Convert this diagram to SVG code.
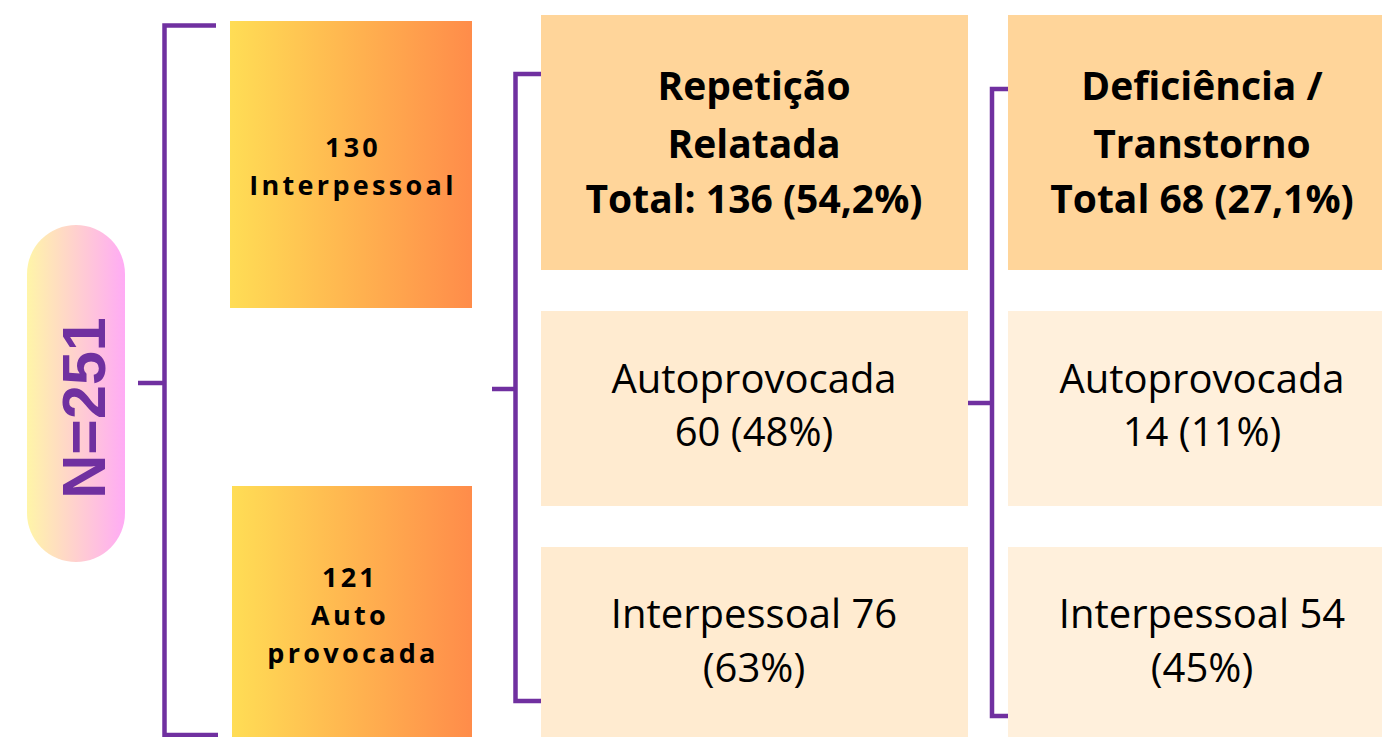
<svg xmlns="http://www.w3.org/2000/svg" width="1382" height="737" viewBox="0 0 1382 737">
<defs>
<linearGradient id="orange" x1="0" y1="0" x2="1" y2="0">
<stop offset="0" stop-color="#ffdd55"/>
<stop offset="1" stop-color="#ff8c4a"/>
</linearGradient>
<linearGradient id="pill" x1="0" y1="0" x2="1" y2="0">
<stop offset="0" stop-color="#fff5a8"/>
<stop offset="1" stop-color="#ffabf5"/>
</linearGradient>
<style>
.conn{fill:none;stroke:#7030a0;stroke-width:4.5;stroke-linecap:butt;stroke-linejoin:miter}
.head{fill:#ffd59a}
.sub{fill:#ffebd0}
.sub2{fill:#fff0dc}
.t{font-family:"Open Sans","Liberation Sans",sans-serif;fill:#000;text-anchor:middle}
.big{font-size:39px;font-weight:700}
.reg{font-size:40px;font-weight:400}
.sm{font-size:27px;font-weight:700;letter-spacing:3.3px}
</style>
</defs>
<rect width="1382" height="737" fill="#fff"/>
<g id="connectors">
<path class="conn" d="M216 25.5 H164.5 V735 H218"/>
<path class="conn" d="M138 383 H164.5"/>
<path class="conn" d="M560 74 H515.5 V701 H562"/>
<path class="conn" d="M492 389 H515.5"/>
<path class="conn" d="M1036 89 H992 V716 H1038"/>
<path class="conn" d="M968 403 H992"/>
</g>
<g id="n-total">
<rect x="27" y="225" width="98" height="337" rx="49" fill="url(#pill)"/>
<text transform="translate(105 408) rotate(-90)" font-family="Liberation Sans,Arial,sans-serif" font-size="61" font-weight="700" fill="#7030a0" text-anchor="middle">N=251</text>
</g>
<g id="interpessoal">
<rect x="230" y="21" width="242" height="287" fill="url(#orange)"/>
<text class="t sm" x="353" y="157">130</text>
<text class="t sm" x="353" y="195">Interpessoal</text>
</g>
<g id="autoprovocada">
<rect x="232" y="486" width="240" height="251" fill="url(#orange)"/>
<text class="t sm" x="350" y="587">121</text>
<text class="t sm" x="350" y="625">Auto</text>
<text class="t sm" x="353" y="663">provocada</text>
</g>
<g id="repeticao">
<rect class="head" x="541" y="15" width="427" height="255"/>
<text class="t big" x="754" y="100">Repetição</text>
<text class="t big" x="754" y="158">Relatada</text>
<text class="t big" x="754" y="213">Total: 136 (54,2%)</text>
</g>
<g id="rep-auto">
<rect class="sub" x="541" y="311" width="427" height="195"/>
<text class="t reg" x="754" y="393">Autoprovocada</text>
<text class="t reg" x="754" y="446">60 (48%)</text>
</g>
<g id="rep-inter">
<rect class="sub" x="541" y="547" width="427" height="190"/>
<text class="t reg" x="754" y="628">Interpessoal 76</text>
<text class="t reg" x="754" y="682">(63%)</text>
</g>
<g id="deficiencia">
<rect class="head" x="1008" y="15" width="374" height="255"/>
<text class="t big" x="1202" y="100">Deficiência /</text>
<text class="t big" x="1202" y="158">Transtorno</text>
<text class="t big" x="1202" y="213">Total 68 (27,1%)</text>
</g>
<g id="def-auto">
<rect class="sub2" x="1008" y="311" width="374" height="195"/>
<text class="t reg" x="1202" y="393">Autoprovocada</text>
<text class="t reg" x="1202" y="446">14 (11%)</text>
</g>
<g id="def-inter">
<rect class="sub2" x="1008" y="547" width="374" height="190"/>
<text class="t reg" x="1202" y="628">Interpessoal 54</text>
<text class="t reg" x="1202" y="682">(45%)</text>
</g>
</svg>
